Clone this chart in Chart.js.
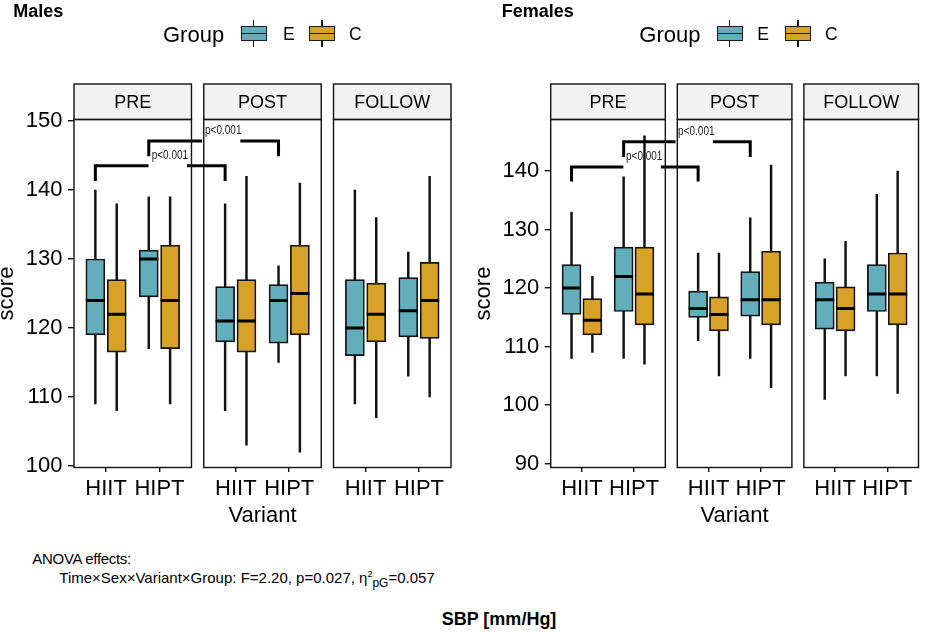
<!DOCTYPE html>
<html>
<head>
<meta charset="utf-8">
<script src="https://cdn.jsdelivr.net/npm/chart.js@4.4.1/dist/chart.umd.min.js"></script>
<style>
  body { margin: 0; background: #fff; font-family: 'Liberation Sans', Arial, sans-serif; color: #000; }
  #page { position: relative; width: 931px; height: 632px; overflow: hidden; background: #fff; }
  canvas { position: absolute; top: 0; }
  .txt { position: absolute; white-space: nowrap; }
  .title { font-weight: bold; font-size: 18px; line-height: 18px; }
  .legend-title { font-size: 22px; line-height: 22px; }
  .legend-label { font-size: 17.5px; line-height: 17.5px; }
  .key { position: absolute; top: 20px; width: 26px; height: 27px; }
  .key .wh { position: absolute; left: 12.3px; top: 0; width: 1.5px; height: 27px; background: #1a1a1a; }
  .key .bx { position: absolute; left: 0; top: 5.7px; width: 26px; height: 15.6px; box-sizing: border-box; border: 1.5px solid #1a1a1a; }
  .key .md { position: absolute; left: 0; top: 12.7px; width: 26px; height: 1.7px; background: #1a1a1a; }
  .note { font-size: 15px; line-height: 15px; }
  sup, sub { line-height: 0; }
</style>
</head>
<body>
<div id="page">
  <canvas id="males" width="466" height="530" style="left:0"></canvas>
  <canvas id="females" width="465" height="530" style="left:466px"></canvas>
  <div class="txt title" style="left:13.3px; top:1.5px">Males</div>
  <div class="txt title" style="left:501.7px; top:1.5px">Females</div>
  <div class="txt note" style="left:32.3px; top:550.6px; letter-spacing:-0.3px">ANOVA effects:</div>
  <div class="txt note" style="left:59.3px; top:570px">Time×Sex×Variant×Group: F=2.20, p=0.027, η<sup style="font-size:9px">2</sup><sub style="font-size:12px">pG</sub>=0.057</div>
  <div class="txt title" style="left:441.7px; top:609.8px">SBP [mm/Hg]</div>
</div>
<script>
const facets = ['PRE', 'POST', 'FOLLOW'];
const variants = ['HIIT', 'HIPT'];
const groups = ['E', 'C'];
const groupColors = ['#62AFBB', '#D8A127'];

// [min, q1, median, q3, max] for PRE-HIIT, PRE-HIPT, POST-HIIT, POST-HIPT, FOLLOW-HIIT, FOLLOW-HIPT
const malesE = [[109, 119, 124, 130, 140], [117, 124.5, 130, 131.3, 139], [108, 118, 121, 126, 138],
                [115, 117.8, 124, 126.3, 129], [109, 116, 120, 127, 140], [113, 118.7, 122.5, 127.3, 131]];
const malesC = [[108, 116.5, 122, 127, 138], [109, 117, 124, 132, 139], [103, 116.5, 121, 127, 142],
                [102, 119, 125, 132, 141], [107, 118, 122, 126.5, 136], [110, 118.5, 124, 129.5, 142]];
const femalesE = [[108, 115.5, 120, 124, 133], [108, 116, 122, 127, 139], [111, 115, 116.5, 119.5, 126],
                  [108, 115.2, 118, 122.8, 132], [101, 113, 118, 121, 125], [105, 116, 119, 124, 136]];
const femalesC = [[109, 112, 114.5, 118.2, 122], [107, 113.7, 119, 127, 146], [105, 112.7, 115.5, 118.5, 126],
                  [103, 113.7, 118, 126.3, 141], [105, 112.7, 116.5, 120.2, 128], [102, 113.7, 119, 126, 140]];

const maleTicks = [100, 110, 120, 130, 140, 150];
const femaleTicks = [90, 100, 110, 120, 130, 140];
const maleRange = [99.78, 150.22];
const femaleRange = [89.35, 148.8];

// significance brackets: E group, PRE vs POST for each variant
const bracketPairs = [[0, 2], [1, 3]];
const bracketLabels = ['p<0.001', 'p<0.001'];
const maleBracketY = [143.5, 147.1];
const maleBracketTip = [141.3, 144.9];
const femaleBracketY = [140.7, 145.0];
const femaleBracketTip = [138.2, 142.4];

const FACET_STEP = 2.43;
const DODGE = 0.2;
const INK = '#000';

function xPos(i, g) {
  const f = Math.floor(i / 2), v = i % 2;
  return f * FACET_STEP + v + 1 + (g === 0 ? -DODGE : DODGE);
}

const xTickPos = [];
facets.forEach((f, fi) => variants.forEach((v, vi) => xTickPos.push(fi * FACET_STEP + vi + 1)));

function boxDatasets(series) {
  const sets = [];
  series.forEach((stats, g) => {
    sets.push({
      type: 'bar', label: groups[g] + ' whisker',
      data: stats.map((s, i) => ({ x: xPos(i, g), y: [s[0], s[4]] })),
      backgroundColor: '#111', borderWidth: 0, barThickness: 1.8, grouped: false, order: 3
    });
    sets.push({
      type: 'bar', label: groups[g],
      data: stats.map((s, i) => ({ x: xPos(i, g), y: [s[1], s[3]] })),
      backgroundColor: groupColors[g], borderColor: '#111', borderWidth: 1.7,
      borderSkipped: false, barThickness: 19, grouped: false, order: 2
    });
    sets.push({
      type: 'line', label: groups[g] + ' median',
      data: stats.map((s, i) => ({ x: xPos(i, g), y: s[2] })),
      showLine: false, pointStyle: 'line', pointRadius: 9.5, pointBorderWidth: 3,
      pointBorderColor: INK, order: 1
    });
  });
  return sets;
}

function bracketDatasets(ys, tips) {
  return bracketPairs.map(([a, b], k) => {
    const x1 = xPos(a, 0), x2 = xPos(b, 0), mid = (x1 + x2) / 2;
    return {
      type: 'line', label: 'bracket ' + k,
      data: [
        { x: x1, y: tips[k] }, { x: x1, y: ys[k] }, { x: mid - 0.22, y: ys[k] },
        { x: mid, y: null },
        { x: mid + 0.5, y: ys[k] }, { x: x2, y: ys[k] }, { x: x2, y: tips[k] }
      ],
      borderColor: INK, borderWidth: 3, pointRadius: 0, spanGaps: false, tension: 0,
      borderCapStyle: 'butt', borderJoinStyle: 'miter', order: 0, clip: false
    };
  });
}

const facetPlugin = {
  id: 'facets',
  afterDraw(chart) {
    const { ctx, chartArea, scales: { x } } = chart;
    const stripH = 35.5;
    ctx.save();
    facets.forEach((name, f) => {
      const l = x.getPixelForValue(f * FACET_STEP + 0.4);
      const r = x.getPixelForValue(f * FACET_STEP + 2.6);
      const top = chartArea.top - stripH;
      ctx.fillStyle = '#F2F2F2';
      ctx.fillRect(l, top, r - l, stripH);
      ctx.lineWidth = 1.4;
      ctx.strokeStyle = '#111';
      ctx.strokeRect(l, top, r - l, stripH);
      ctx.strokeRect(l, chartArea.top, r - l, chartArea.bottom - chartArea.top);
      ctx.fillStyle = INK;
      ctx.font = '18px "Liberation Sans", Arial, sans-serif';
      ctx.textAlign = 'center';
      ctx.textBaseline = 'middle';
      ctx.fillText(name, (l + r) / 2, top + 18.8);
    });
    ctx.restore();
  }
};

// p-value labels, slightly condensed like the original narrow font
const pLabelPlugin = {
  id: 'pLabels',
  afterDatasetsDraw(chart, args, opts) {
    const { ctx, scales: { x, y } } = chart;
    ctx.save();
    ctx.fillStyle = '#222';
    ctx.font = '12.5px "Liberation Sans", Arial, sans-serif';
    ctx.textAlign = 'center';
    ctx.textBaseline = 'middle';
    opts.items.forEach(it => {
      const px = x.getPixelForValue(it.x), py = y.getPixelForValue(it.y) - 10;
      ctx.save();
      ctx.translate(px, py);
      ctx.scale(0.8, 1);
      ctx.fillText(it.text, 0, 0);
      ctx.restore();
    });
    ctx.restore();
  }
};

function makePanel(id, series, ticks, range, bY, bTip, cfg) {
  const labelItems = bracketPairs.map(([a, b], k) => ({
    text: bracketLabels[k], x: (xPos(a, 0) + xPos(b, 0)) / 2 + 0.18, y: bY[k]
  }));
  new Chart(document.getElementById(id), {
    type: 'bar',
    data: { datasets: [...boxDatasets(series), ...bracketDatasets(bY, bTip)] },
    options: {
      responsive: false,
      animation: false,
      events: [],
      layout: { padding: { left: 0, top: 119.5, right: cfg.right, bottom: 0 } },
      plugins: {
        legend: { display: false },
        tooltip: { enabled: false },
        pLabels: { items: labelItems }
      },
      scales: {
        x: {
          type: 'linear', min: 0.4, max: 2 * FACET_STEP + 2.6, offset: false,
          grid: { offset: false, drawOnChartArea: false, drawTicks: true, tickLength: 4.5, color: '#111', lineWidth: 1.4 },
          border: { display: false },
          afterBuildTicks: s => { s.ticks = xTickPos.map(v => ({ value: v })); },
          afterFit: s => { s.height = cfg.height - 467.5; },
          ticks: {
            autoSkip: false, maxRotation: 0, padding: 6, color: INK,
            font: { size: 22, lineHeight: 1 },
            callback: (v, i) => variants[i % 2]
          },
          title: { display: true, text: 'Variant', color: INK, font: { size: 22, lineHeight: 1 }, padding: { top: 0, bottom: 3.3 } }
        },
        y: {
          type: 'linear', min: range[0], max: range[1], beginAtZero: false,
          grid: { drawOnChartArea: false, drawTicks: true, tickLength: 6, color: '#111', lineWidth: 1.4 },
          border: { display: false },
          afterBuildTicks: s => { s.ticks = ticks.map(v => ({ value: v })); },
          afterFit: s => { s.width = cfg.axisWidth; },
          ticks: { padding: 5.5, color: INK, font: { size: 22, lineHeight: 1 } },
          title: { display: true, text: 'score', color: INK, font: { size: 22, lineHeight: 1 }, padding: { top: cfg.titlePad, bottom: 0 } }
        }
      }
    },
    plugins: [facetPlugin, pLabelPlugin]
  });
}

Chart.defaults.font.family = "'Liberation Sans', Arial, sans-serif";

makePanel('males', [malesE, malesC], maleTicks, maleRange, maleBracketY, maleBracketTip,
  { right: 15, axisWidth: 74, titlePad: -4.05, height: 530 });
makePanel('females', [femalesE, femalesC], femaleTicks, femaleRange, femaleBracketY, femaleBracketTip,
  { right: 4.3, axisWidth: 84.7, titlePad: 6.6, height: 530 });

// legends (one per panel)
const legendPos = [
  { title: 163, keys: [240.7, 309], labels: [283, 349] },
  { title: 639.3, keys: [716.7, 785], labels: [757.3, 825] }
];
const page = document.getElementById('page');
legendPos.forEach(lp => {
  const t = document.createElement('div');
  t.className = 'txt legend-title';
  t.style.left = lp.title + 'px';
  t.style.top = '23.7px';
  t.textContent = 'Group';
  page.appendChild(t);
  groups.forEach((g, gi) => {
    const k = document.createElement('div');
    k.className = 'key';
    k.style.left = lp.keys[gi] + 'px';
    k.innerHTML = '<div class="wh"></div><div class="bx" style="background:' + groupColors[gi] + '"></div><div class="md"></div>';
    page.appendChild(k);
    const l = document.createElement('div');
    l.className = 'txt legend-label';
    l.style.left = lp.labels[gi] + 'px';
    l.style.top = '25.9px';
    l.textContent = g;
    page.appendChild(l);
  });
});
</script>
</body>
</html>
